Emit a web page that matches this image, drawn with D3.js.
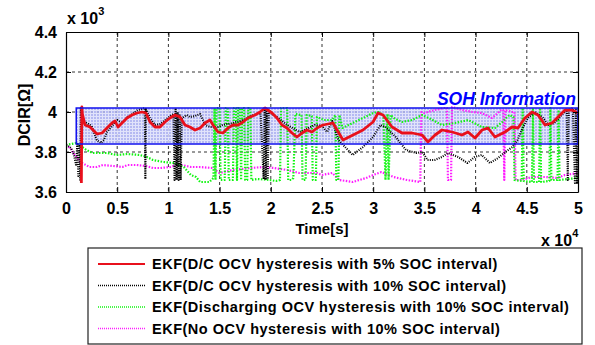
<!DOCTYPE html>
<html>
<head>
<meta charset="utf-8">
<script src="https://cdn.jsdelivr.net/npm/d3@7"></script>
<style>
  body { margin: 0; background: #fff; }
  svg text { font-family: "Liberation Sans", Arial, sans-serif; }
</style>
</head>
<body>
<svg id="chart" width="595" height="345"></svg>
<script>
// time in units of 1e4 s, DCIR in units of 1e3 ohm
const xTicks = [0, 0.5, 1, 1.5, 2, 2.5, 3, 3.5, 4, 4.5, 5];
const yTicks = [3.6, 3.8, 4, 4.2, 4.4];
const sohBand = [0.1, 5.0, 3.84, 4.02];

const redData = [[0.15,3.645],[0.155,4.025],[0.16,3.99],[0.186,3.935],[0.234,3.925],[0.303,3.89],[0.352,3.895],[0.40,3.92],[0.449,3.945],[0.479,3.955],[0.508,3.925],[0.547,3.945],[0.596,3.97],[0.645,3.985],[0.693,3.995],[0.742,4.0],[0.781,3.995],[0.82,3.95],[0.869,3.925],[0.918,3.925],[0.967,3.95],[1.016,3.97],[1.064,3.985],[1.113,3.975],[1.162,3.935],[1.21,3.925],[1.26,3.91],[1.31,3.92],[1.357,3.945],[1.406,3.96],[1.436,3.935],[1.484,3.9],[1.533,3.895],[1.582,3.92],[1.631,3.935],[1.68,3.935],[1.729,3.95],[1.777,3.97],[1.846,3.985],[1.895,4.0],[1.943,4.02],[2.012,3.995],[2.06,3.97],[2.109,3.935],[2.158,3.92],[2.207,3.895],[2.256,3.875],[2.305,3.895],[2.353,3.91],[2.402,3.9],[2.451,3.92],[2.51,3.935],[2.607,3.945],[2.705,3.86],[2.803,3.885],[2.9,3.91],[2.998,3.95],[3.047,3.995],[3.096,3.985],[3.184,3.925],[3.281,3.895],[3.379,3.895],[3.477,3.885],[3.535,3.85],[3.604,3.885],[3.672,3.91],[3.77,3.9],[3.867,3.885],[3.926,3.9],[3.994,3.87],[4.063,3.91],[4.121,3.92],[4.189,3.875],[4.287,3.9],[4.355,3.925],[4.414,3.92],[4.482,3.97],[4.551,4.0],[4.609,3.985],[4.678,3.935],[4.746,3.945],[4.805,3.975],[4.873,4.01],[4.941,4.01],[5.0,3.995]];

const blackData = [[0,3.835],[0.05,3.82],[0.08,3.78],[0.1,3.73],[0.11,3.84],[0.12,3.68],[0.13,3.83],[0.14,3.66],[0.145,4.02],[0.16,3.95],[0.2,3.945],[0.25,3.93],[0.3,3.86],[0.34,3.845],[0.37,3.86],[0.40,3.9],[0.45,3.93],[0.5,3.96],[0.55,3.945],[0.6,3.975],[0.65,3.99],[0.7,4.01],[0.74,4.015],[0.77,4.02],[0.775,3.665],[0.78,4.015],[0.82,3.97],[0.87,3.935],[0.92,3.94],[0.97,3.96],[1.02,3.98],[1.05,3.99],[1.06,3.66],[1.07,4.02],[1.08,3.66],[1.09,4.0],[1.10,3.66],[1.11,3.99],[1.12,3.66],[1.13,3.97],[1.18,3.985],[1.21,3.975],[1.26,3.98],[1.31,3.99],[1.36,3.935],[1.41,3.925],[1.48,3.925],[1.53,3.935],[1.63,3.945],[1.73,3.96],[1.83,3.985],[1.9,3.995],[1.93,3.665],[1.94,4.025],[1.95,3.66],[1.96,4.02],[1.97,3.665],[1.98,4.0],[2.06,3.975],[2.16,3.935],[2.21,3.92],[2.28,3.9],[2.33,3.91],[2.43,3.935],[2.5,3.93],[2.55,3.9],[2.6,3.955],[2.66,3.86],[2.8,3.785],[2.9,3.825],[3.0,3.875],[3.07,3.935],[3.12,3.925],[3.22,3.875],[3.32,3.81],[3.42,3.795],[3.48,3.8],[3.53,3.76],[3.6,3.76],[3.67,3.775],[3.73,3.795],[3.83,3.775],[3.92,3.745],[3.99,3.775],[4.06,3.785],[4.14,3.745],[4.22,3.77],[4.29,3.8],[4.36,3.825],[4.41,3.86],[4.46,3.92],[4.51,3.97],[4.58,4.0],[4.66,3.97],[4.71,3.935],[4.77,3.945],[4.84,3.985],[4.89,4.01],[4.9,3.66],[4.91,4.01],[4.95,4.02],[4.97,3.645],[4.98,4.02],[4.99,3.645],[5.0,4.0]];

const greenData = [[0,3.835],[0.1,3.845],[0.2,3.81],[0.26,3.795],[0.4,3.795],[0.5,3.785],[0.6,3.79],[0.72,3.785],[0.79,3.775],[0.85,3.76],[0.95,3.75],[1.05,3.745],[1.15,3.725],[1.22,3.685],[1.27,3.675],[1.31,3.65],[1.4,3.65],[1.44,3.67],[1.45,4.02],[1.46,3.66],[1.47,4.02],[1.50,4.02],[1.51,3.66],[1.55,3.66],[1.56,4.02],[1.58,4.02],[1.59,3.66],[1.63,3.66],[1.64,4.02],[1.66,4.02],[1.67,3.66],[1.68,4.02],[1.70,4.02],[1.71,3.66],[1.72,4.02],[1.74,4.02],[1.75,3.66],[1.77,3.66],[1.78,4.02],[1.80,4.02],[1.81,3.66],[1.87,3.665],[1.99,3.66],[2.05,3.655],[2.09,3.66],[2.1,4.02],[2.16,4.02],[2.17,3.66],[2.2,3.66],[2.22,3.67],[2.24,3.99],[2.3,3.985],[2.31,3.66],[2.34,3.66],[2.35,3.985],[2.4,3.98],[2.41,3.66],[2.44,3.66],[2.45,3.975],[2.52,3.96],[2.6,3.96],[2.63,3.985],[2.64,3.66],[2.66,3.66],[2.67,3.985],[2.7,3.92],[2.8,3.945],[2.9,3.97],[3.0,3.995],[3.05,4.0],[3.1,3.985],[3.12,3.66],[3.14,3.99],[3.15,3.66],[3.17,3.985],[3.2,3.97],[3.28,3.95],[3.38,3.96],[3.48,3.985],[3.58,3.96],[3.67,3.935],[3.8,3.945],[3.93,3.96],[4.06,3.925],[4.19,3.92],[4.26,3.95],[4.33,3.985],[4.37,3.975],[4.38,3.66],[4.45,3.655],[4.46,4.02],[4.47,3.655],[4.55,3.65],[4.56,4.02],[4.57,3.65],[4.62,3.65],[4.63,4.02],[4.64,3.65],[4.72,3.655],[4.73,4.02],[4.74,3.66],[4.8,3.66],[4.81,4.01],[4.82,3.66],[4.9,3.665],[5.0,3.67]];

const magentaData = [[0,3.835],[0.04,3.82],[0.1,3.775],[0.14,3.75],[0.23,3.725],[0.3,3.725],[0.36,3.735],[0.46,3.73],[0.55,3.725],[0.6,3.735],[0.69,3.735],[0.78,3.73],[0.85,3.72],[0.92,3.72],[1.02,3.725],[1.08,3.735],[1.13,3.735],[1.22,3.725],[1.3,3.725],[1.43,3.72],[1.5,3.695],[1.63,3.71],[1.8,3.72],[1.93,3.725],[2.03,3.72],[2.16,3.71],[2.28,3.695],[2.45,3.695],[2.5,3.685],[2.6,3.695],[2.67,3.66],[2.8,3.65],[2.93,3.67],[3.0,3.685],[3.08,3.70],[3.2,3.675],[3.33,3.66],[3.46,3.65],[3.47,4.0],[3.5,3.995],[3.6,4.01],[3.7,4.02],[3.72,4.02],[3.73,3.66],[3.76,3.66],[3.77,4.025],[3.87,4.01],[3.97,4.0],[4.06,3.995],[4.16,3.97],[4.25,4.01],[4.27,4.01],[4.28,3.66],[4.29,4.01],[4.36,4.0],[4.38,4.0],[4.39,3.66],[4.45,3.66],[4.55,3.675],[4.68,3.675],[4.8,3.67],[4.87,3.685],[5.0,3.695]];

const series = [
  {name: "EKF(D/C OCV hysteresis with 5% SOC interval)", data: redData, color: "#e8101c", width: 2.8, dash: null},
  {name: "EKF(D/C OCV hysteresis with 10% SOC interval)", data: blackData, color: "#000000", width: 2.1, dash: "1,1.3"},
  {name: "EKF(Discharging OCV hysteresis with 10% SOC interval)", data: greenData, color: "#11f511", width: 2.2, dash: "1.5,1.5"},
  {name: "EKF(No OCV hysteresis with 10% SOC interval)", data: magentaData, color: "#ff1cff", width: 2.2, dash: "1.5,1.5"}
];

const svg = d3.select("#chart");
const margin = {left: 66, right: 17, top: 32, bottom: 153};
const width = 595 - margin.left - margin.right;
const height = 345 - margin.top - margin.bottom;

const x = d3.scaleLinear().domain([0, 5]).range([0, width]);
const y = d3.scaleLinear().domain([3.6, 4.4]).range([height, 0]);

const g = svg.append("g").attr("transform", "translate(" + margin.left + "," + margin.top + ")");

// hatch pattern for SOH band
const defs = svg.append("defs");
const pat = defs.append("pattern").attr("id", "hatch").attr("patternUnits", "userSpaceOnUse")
  .attr("width", 3).attr("height", 3);
pat.append("rect").attr("width", 3).attr("height", 3).attr("fill", "#a8adf0");
pat.append("rect").attr("x", 0).attr("y", 0).attr("width", 3).attr("height", 1).attr("fill", "#dcdefa");
pat.append("rect").attr("x", 0).attr("y", 0).attr("width", 1).attr("height", 3).attr("fill", "#dcdefa");
defs.append("clipPath").attr("id", "plotclip").append("rect").attr("width", width).attr("height", height);

// grid
g.append("g").selectAll("line").data(xTicks.slice(1, -1)).enter().append("line")
  .attr("x1", d => x(d)).attr("x2", d => x(d)).attr("y1", 0).attr("y2", height)
  .attr("stroke", "#000").attr("stroke-width", 0.8).attr("stroke-dasharray", "3,3");
g.append("g").selectAll("line").data(yTicks.slice(1, -1)).enter().append("line")
  .attr("y1", d => y(d)).attr("y2", d => y(d)).attr("x1", 0).attr("x2", width)
  .attr("stroke", "#000").attr("stroke-width", 0.8).attr("stroke-dasharray", "3,3");

// SOH band under the curves
g.append("rect")
  .attr("x", x(sohBand[0])).attr("width", x(sohBand[1]) - x(sohBand[0]))
  .attr("y", y(sohBand[3])).attr("height", y(sohBand[2]) - y(sohBand[3]))
  .attr("fill", "url(#hatch)").attr("fill-opacity", 0.85);

// series
const line = d3.line().x(d => x(d[0])).y(d => y(d[1]));
const lines = g.append("g").attr("clip-path", "url(#plotclip)");
series.slice().reverse().forEach(s => {
  lines.append("path").datum(s.data).attr("d", line)
    .attr("fill", "none").attr("stroke", s.color).attr("stroke-width", s.width)
    .attr("stroke-dasharray", s.dash).attr("stroke-linejoin", "round");
});

// band outline on top
g.append("rect")
  .attr("x", x(sohBand[0])).attr("width", x(sohBand[1]) - x(sohBand[0]))
  .attr("y", y(sohBand[3])).attr("height", y(sohBand[2]) - y(sohBand[3]))
  .attr("fill", "none").attr("stroke", "#1010ee").attr("stroke-width", 1.5);
g.append("text").attr("x", x(4.98)).attr("y", y(4.037))
  .attr("text-anchor", "end").attr("fill", "#0000ff")
  .style("font-size", "17.5px").style("font-style", "italic").style("font-weight", "bold")
  .text("SOH Information");

// axes with inward ticks
const fmt = d => d === 0 ? "0" : String(d);
g.append("g").attr("transform", "translate(0," + height + ")")
  .call(d3.axisBottom(x).tickValues(xTicks).tickSizeInner(-5).tickSizeOuter(0).tickPadding(11).tickFormat(fmt));
g.append("g")
  .call(d3.axisTop(x).tickValues(xTicks).tickSizeInner(-5).tickSizeOuter(0).tickFormat(""));
g.append("g")
  .call(d3.axisLeft(y).tickValues(yTicks).tickSizeInner(-5).tickSizeOuter(0).tickPadding(9).tickFormat(fmt));
g.append("g").attr("transform", "translate(" + width + ",0)")
  .call(d3.axisRight(y).tickValues(yTicks).tickSizeInner(-5).tickSizeOuter(0).tickFormat(""));
g.selectAll(".domain").attr("stroke", "#000").attr("stroke-width", 1.2);
g.selectAll(".tick line").attr("stroke", "#000");
g.selectAll(".tick text").attr("fill", "#000")
  .style("font-size", "16px").style("font-weight", "bold")
  .style("font-family", "'Liberation Sans', Arial, sans-serif");

// exponent labels
const e3 = svg.append("text").attr("x", 67).attr("y", 24).style("font-size", "16px").style("font-weight", "bold");
e3.append("tspan").text("x 10");
e3.append("tspan").attr("dy", -9).style("font-size", "11px").text("3");
const e4 = svg.append("text").attr("x", 541).attr("y", 246).style("font-size", "16px").style("font-weight", "bold");
e4.append("tspan").text("x 10");
e4.append("tspan").attr("dy", -9).style("font-size", "11px").text("4");

// axis titles
svg.append("text").attr("x", margin.left + width / 2).attr("y", 234).attr("text-anchor", "middle")
  .style("font-size", "15px").style("font-weight", "bold").text("Time[s]");
svg.append("text").attr("transform", "translate(30,115) rotate(-90)").attr("text-anchor", "middle")
  .style("font-size", "16px").style("font-weight", "bold").text("DCIR[Ω]");

// legend
const leg = svg.append("g");
leg.append("rect").attr("x", 88).attr("y", 248).attr("width", 494).attr("height", 96)
  .attr("fill", "#fff").attr("stroke", "#222").attr("stroke-width", 1.2);
series.forEach((s, i) => {
  const cy = 264 + i * 21.5;
  leg.append("line").attr("x1", 98).attr("x2", 145).attr("y1", cy).attr("y2", cy)
    .attr("stroke", s.color).attr("stroke-width", s.dash ? 1.6 : 2)
    .attr("stroke-dasharray", s.dash ? "1,1" : null);
  leg.append("text").attr("x", 152).attr("y", cy + 5)
    .style("font-size", "14.5px").style("font-weight", "bold").style("letter-spacing", "0.5px")
    .text(s.name);
});
</script>
</body>
</html>
